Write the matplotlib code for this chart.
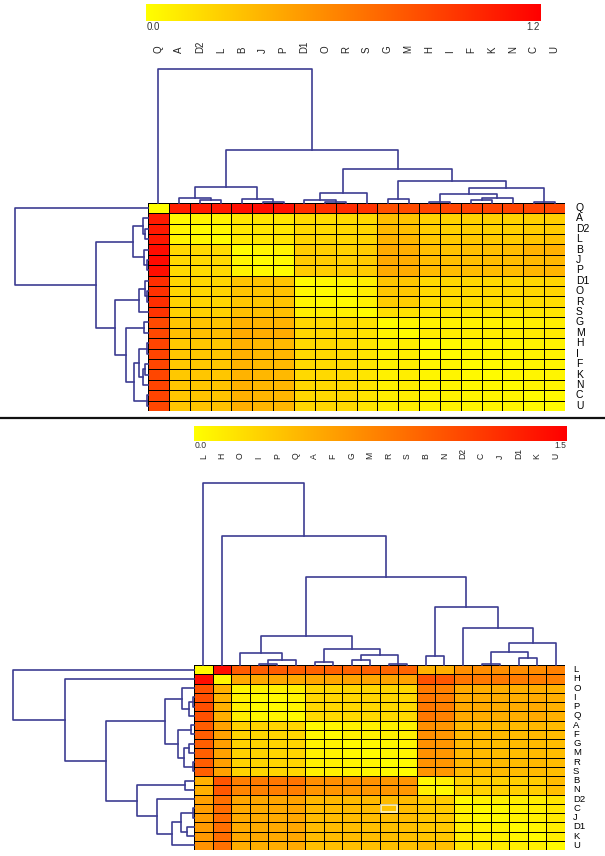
import matplotlib
matplotlib.use("Agg")
import matplotlib.pyplot as plt
import numpy as np
from matplotlib.colors import LinearSegmentedColormap
from matplotlib.lines import Line2D
from matplotlib.patches import Rectangle

plt.rcParams['font.family'] = ['Liberation Sans', 'DejaVu Sans']

W, H = 605, 856

# ---- top panel data ----
top_labels = ["Q", "A", "D2", "L", "B", "J", "P", "D1", "O", "R",
              "S", "G", "M", "H", "I", "F", "K", "N", "C", "U"]
top_vmax = 1.2
top_values = np.array([
    [0.00, 1.06, 1.07, 1.08, 1.13, 1.14, 1.12, 0.98, 0.97, 0.99, 0.96, 0.82, 0.84, 0.88, 0.87, 0.88, 0.87, 0.88, 0.87, 0.86],
    [1.07, 0.03, 0.05, 0.06, 0.12, 0.13, 0.12, 0.17, 0.16, 0.17, 0.18, 0.30, 0.28, 0.22, 0.21, 0.22, 0.22, 0.21, 0.22, 0.23],
    [1.08, 0.05, 0.02, 0.04, 0.11, 0.12, 0.11, 0.18, 0.17, 0.18, 0.19, 0.33, 0.30, 0.23, 0.22, 0.23, 0.22, 0.22, 0.23, 0.24],
    [1.09, 0.06, 0.04, 0.02, 0.10, 0.11, 0.12, 0.20, 0.19, 0.19, 0.20, 0.36, 0.34, 0.26, 0.25, 0.26, 0.25, 0.24, 0.27, 0.29],
    [1.14, 0.19, 0.18, 0.17, 0.02, 0.05, 0.06, 0.24, 0.23, 0.22, 0.24, 0.40, 0.38, 0.30, 0.29, 0.30, 0.30, 0.31, 0.36, 0.37],
    [1.15, 0.19, 0.18, 0.18, 0.05, 0.02, 0.03, 0.25, 0.24, 0.23, 0.25, 0.41, 0.39, 0.31, 0.30, 0.30, 0.31, 0.31, 0.33, 0.34],
    [1.13, 0.18, 0.17, 0.18, 0.06, 0.03, 0.02, 0.24, 0.23, 0.23, 0.24, 0.40, 0.39, 0.32, 0.31, 0.31, 0.31, 0.31, 0.34, 0.35],
    [0.98, 0.20, 0.19, 0.20, 0.28, 0.29, 0.28, 0.02, 0.04, 0.05, 0.08, 0.28, 0.27, 0.18, 0.19, 0.19, 0.18, 0.18, 0.19, 0.20],
    [0.97, 0.20, 0.19, 0.21, 0.28, 0.28, 0.29, 0.04, 0.02, 0.03, 0.08, 0.27, 0.26, 0.18, 0.18, 0.18, 0.18, 0.18, 0.19, 0.20],
    [0.98, 0.21, 0.20, 0.20, 0.27, 0.27, 0.28, 0.05, 0.03, 0.02, 0.07, 0.24, 0.23, 0.15, 0.15, 0.15, 0.15, 0.15, 0.16, 0.16],
    [0.96, 0.22, 0.22, 0.22, 0.30, 0.30, 0.30, 0.08, 0.08, 0.07, 0.02, 0.15, 0.14, 0.11, 0.11, 0.11, 0.11, 0.11, 0.12, 0.12],
    [0.85, 0.27, 0.28, 0.28, 0.37, 0.36, 0.36, 0.19, 0.18, 0.18, 0.14, 0.02, 0.06, 0.07, 0.07, 0.07, 0.07, 0.07, 0.08, 0.08],
    [0.86, 0.30, 0.30, 0.31, 0.40, 0.39, 0.39, 0.19, 0.19, 0.18, 0.14, 0.06, 0.02, 0.09, 0.09, 0.09, 0.09, 0.09, 0.10, 0.10],
    [0.88, 0.26, 0.27, 0.27, 0.37, 0.34, 0.33, 0.18, 0.18, 0.17, 0.13, 0.07, 0.08, 0.02, 0.03, 0.05, 0.05, 0.05, 0.06, 0.06],
    [0.88, 0.27, 0.27, 0.28, 0.37, 0.34, 0.34, 0.18, 0.18, 0.17, 0.13, 0.07, 0.08, 0.03, 0.02, 0.05, 0.05, 0.05, 0.06, 0.06],
    [0.87, 0.26, 0.26, 0.27, 0.36, 0.33, 0.33, 0.18, 0.17, 0.17, 0.12, 0.07, 0.08, 0.05, 0.05, 0.02, 0.03, 0.04, 0.05, 0.05],
    [0.87, 0.26, 0.27, 0.27, 0.36, 0.34, 0.33, 0.18, 0.18, 0.17, 0.12, 0.07, 0.08, 0.05, 0.05, 0.03, 0.02, 0.04, 0.05, 0.05],
    [0.88, 0.27, 0.27, 0.28, 0.37, 0.34, 0.34, 0.19, 0.18, 0.17, 0.13, 0.07, 0.08, 0.05, 0.05, 0.04, 0.04, 0.02, 0.05, 0.05],
    [0.88, 0.27, 0.28, 0.28, 0.37, 0.35, 0.34, 0.19, 0.18, 0.18, 0.13, 0.08, 0.08, 0.06, 0.06, 0.05, 0.05, 0.05, 0.02, 0.03],
    [0.87, 0.27, 0.28, 0.29, 0.38, 0.35, 0.34, 0.19, 0.19, 0.18, 0.13, 0.08, 0.08, 0.06, 0.06, 0.05, 0.05, 0.05, 0.03, 0.02],
])
# merges: (node a, node b, height); leaves 0..19 in display order, merge k gets id 20+k
top_merges = [
    (2, 3, 2.7), (1, 20, 5.0), (5, 6, 0.7), (4, 22, 3.7), (21, 23, 15.3),
    (8, 9, 0.7), (7, 25, 2.7), (26, 10, 9.3), (11, 12, 4.0), (13, 14, 0.7),
    (15, 16, 2.7), (30, 17, 5.0), (29, 31, 8.7), (18, 19, 0.7), (32, 33, 14.3),
    (28, 34, 21.7), (27, 35, 33.3), (24, 36, 52.0), (0, 37, 133.0),
]

# ---- bottom panel data ----
bot_labels = ["L", "H", "O", "I", "P", "Q", "A", "F", "G", "M",
              "R", "S", "B", "N", "D2", "C", "J", "D1", "K", "U"]
bot_vmax = 1.5
bot_values = np.array([
    [0.04, 1.42, 0.96, 0.95, 0.96, 0.94, 0.92, 0.92, 0.91, 0.92, 0.90, 0.91, 0.46, 0.48, 0.66, 0.67, 0.66, 0.67, 0.68, 0.74],
    [1.42, 0.06, 0.50, 0.50, 0.51, 0.50, 0.52, 0.52, 0.53, 0.52, 0.53, 0.54, 1.02, 0.98, 0.80, 0.78, 0.78, 0.77, 0.76, 0.74],
    [1.02, 0.46, 0.06, 0.08, 0.09, 0.10, 0.24, 0.23, 0.24, 0.24, 0.25, 0.24, 0.78, 0.74, 0.50, 0.48, 0.48, 0.48, 0.49, 0.46],
    [1.04, 0.45, 0.08, 0.03, 0.04, 0.06, 0.24, 0.24, 0.24, 0.25, 0.25, 0.24, 0.80, 0.75, 0.50, 0.49, 0.49, 0.48, 0.50, 0.47],
    [1.04, 0.46, 0.09, 0.04, 0.03, 0.06, 0.23, 0.23, 0.23, 0.24, 0.24, 0.24, 0.80, 0.75, 0.51, 0.50, 0.49, 0.49, 0.50, 0.46],
    [1.03, 0.47, 0.10, 0.06, 0.06, 0.03, 0.22, 0.22, 0.22, 0.23, 0.23, 0.23, 0.80, 0.74, 0.50, 0.48, 0.48, 0.48, 0.50, 0.46],
    [0.96, 0.55, 0.27, 0.26, 0.25, 0.24, 0.03, 0.05, 0.08, 0.09, 0.09, 0.09, 0.66, 0.62, 0.42, 0.41, 0.41, 0.40, 0.42, 0.40],
    [0.95, 0.56, 0.26, 0.25, 0.25, 0.24, 0.05, 0.03, 0.08, 0.08, 0.09, 0.09, 0.66, 0.62, 0.42, 0.41, 0.40, 0.40, 0.41, 0.40],
    [0.94, 0.56, 0.27, 0.26, 0.26, 0.25, 0.08, 0.08, 0.03, 0.05, 0.07, 0.07, 0.65, 0.62, 0.42, 0.40, 0.40, 0.40, 0.41, 0.39],
    [0.94, 0.55, 0.27, 0.26, 0.25, 0.25, 0.09, 0.08, 0.05, 0.03, 0.06, 0.06, 0.65, 0.61, 0.42, 0.40, 0.40, 0.39, 0.41, 0.39],
    [0.95, 0.56, 0.26, 0.25, 0.25, 0.25, 0.09, 0.09, 0.07, 0.06, 0.02, 0.03, 0.64, 0.62, 0.43, 0.41, 0.41, 0.40, 0.42, 0.40],
    [0.94, 0.55, 0.26, 0.25, 0.25, 0.24, 0.09, 0.09, 0.07, 0.06, 0.03, 0.02, 0.63, 0.61, 0.42, 0.40, 0.40, 0.40, 0.41, 0.39],
    [0.46, 1.00, 0.76, 0.78, 0.80, 0.82, 0.66, 0.66, 0.65, 0.64, 0.62, 0.63, 0.05, 0.10, 0.26, 0.28, 0.28, 0.29, 0.30, 0.40],
    [0.47, 0.98, 0.72, 0.74, 0.76, 0.76, 0.62, 0.62, 0.62, 0.61, 0.62, 0.61, 0.10, 0.05, 0.25, 0.26, 0.27, 0.28, 0.29, 0.38],
    [0.56, 0.84, 0.52, 0.52, 0.53, 0.55, 0.42, 0.42, 0.41, 0.41, 0.40, 0.40, 0.30, 0.30, 0.03, 0.08, 0.09, 0.10, 0.11, 0.16],
    [0.58, 0.86, 0.50, 0.50, 0.51, 0.53, 0.41, 0.40, 0.40, 0.39, 0.36, 0.39, 0.32, 0.31, 0.08, 0.03, 0.04, 0.08, 0.09, 0.14],
    [0.58, 0.86, 0.50, 0.50, 0.50, 0.52, 0.40, 0.40, 0.40, 0.39, 0.39, 0.39, 0.33, 0.32, 0.09, 0.04, 0.03, 0.08, 0.09, 0.13],
    [0.59, 0.85, 0.50, 0.49, 0.50, 0.52, 0.40, 0.40, 0.39, 0.38, 0.38, 0.38, 0.33, 0.32, 0.10, 0.08, 0.08, 0.03, 0.06, 0.11],
    [0.60, 0.86, 0.51, 0.50, 0.50, 0.52, 0.40, 0.40, 0.40, 0.39, 0.39, 0.38, 0.34, 0.33, 0.11, 0.09, 0.09, 0.06, 0.03, 0.10],
    [0.64, 0.84, 0.48, 0.48, 0.48, 0.50, 0.38, 0.38, 0.38, 0.37, 0.37, 0.37, 0.40, 0.38, 0.15, 0.13, 0.12, 0.10, 0.09, 0.03],
])
bot_merges = [
    (3, 4, 1.0), (20, 5, 5.0), (2, 21, 12.3), (6, 7, 2.7), (8, 9, 5.0),
    (10, 11, 1.0), (24, 25, 9.7), (23, 26, 16.3), (22, 27, 29.0), (12, 13, 8.7),
    (15, 16, 1.0), (17, 18, 6.7), (30, 31, 13.3), (32, 19, 22.3), (14, 33, 36.7),
    (29, 34, 57.7), (28, 35, 88.3), (1, 36, 129.3), (0, 37, 181.7),
]
bot_marked_cell = ("C", "R")  # row, column with the light outline

cmap = LinearSegmentedColormap.from_list("yr", ["#FFFF00", "#FF0000"])
line_col = "#3d3d92"

fig = plt.figure(figsize=(W / 100, H / 100), dpi=100)


def px_axes(x0, y0, x1, y1):
    ax = fig.add_axes([x0 / W, 1 - y1 / H, (x1 - x0) / W, (y1 - y0) / H])
    ax.set_axis_off()
    return ax


def ftext(x, y, s, **kw):
    fig.text(x / W, 1 - y / H, s, **kw)


def dendro_segments(merges, n):
    pos = {i: i + 0.5 for i in range(n)}
    hgt = {i: 0.0 for i in range(n)}
    segs = []
    for k, (a, b, h) in enumerate(merges):
        xa, xb = pos[a], pos[b]
        segs.append(([xa, xa, xb, xb], [hgt[a], h, h, hgt[b]]))
        pos[n + k] = (xa + xb) / 2
        hgt[n + k] = h
    return segs


def draw_panel(labels, values, vmax, merges, cbar_box, cbar_txt_y, lab_y,
               col_fs, heat_box, root_top, root_left, row_lab_x, row_fs, cbar_fs):
    n = len(labels)
    hx0, hy0, hx1, hy1 = heat_box

    # colour bar
    cax = px_axes(*cbar_box)
    cax.imshow(np.linspace(0, 1, 256)[None, :], aspect="auto", cmap=cmap)
    ftext(cbar_box[0] + 1, cbar_txt_y, "0.0", ha="left", va="center",
          fontsize=cbar_fs, color="#333333")
    ftext(cbar_box[2] - 1, cbar_txt_y, f"{vmax:.1f}", ha="right", va="center",
          fontsize=cbar_fs, color="#333333")

    # heatmap
    ax = px_axes(hx0, hy0, hx1, hy1)
    ax.pcolormesh(values, cmap=cmap, vmin=0, vmax=vmax,
                  edgecolors="black", linewidth=0.7)
    ax.set_xlim(0, n)
    ax.set_ylim(n, 0)

    segs = dendro_segments(merges, n)
    root_h = merges[-1][2]

    # column dendrogram
    dax = px_axes(hx0, root_top, hx1, hy0)
    for xs, ys in segs:
        dax.plot(xs, ys, color=line_col, lw=1.2, clip_on=False)
    dax.set_xlim(0, n)
    dax.set_ylim(0, root_h)

    # row dendrogram
    rax = px_axes(root_left, hy0, hx0, hy1)
    for xs, ys in segs:
        rax.plot(ys, xs, color=line_col, lw=1.2, clip_on=False)
    rax.set_xlim(root_h, 0)
    rax.set_ylim(n, 0)

    cw = (hx1 - hx0) / n
    rh = (hy1 - hy0) / n
    for i, lab in enumerate(labels):
        ftext(hx0 + cw * (i + 0.5), lab_y, lab, rotation=90, ha="center",
              va="bottom", fontsize=col_fs, color="#222222")
        ftext(row_lab_x, hy0 + rh * (i + 0.5), lab, ha="left", va="center",
              fontsize=row_fs, color="black")
    return ax


draw_panel(top_labels, top_values, top_vmax, top_merges,
           cbar_box=(146, 4, 541, 21), cbar_txt_y=27, lab_y=53, col_fs=7,
           heat_box=(148, 202.7, 565, 411), root_top=69, root_left=14.7,
           row_lab_x=576, row_fs=7.5, cbar_fs=7)

bax = draw_panel(bot_labels, bot_values, bot_vmax, bot_merges,
                 cbar_box=(194, 426, 567, 441), cbar_txt_y=446, lab_y=459, col_fs=6.2,
                 heat_box=(194, 665, 565, 850), root_top=483.3, root_left=13,
                 row_lab_x=573, row_fs=6.8, cbar_fs=6.2)

r = bot_labels.index(bot_marked_cell[0])
c = bot_labels.index(bot_marked_cell[1])
bax.add_patch(Rectangle((c + 0.08, r + 0.12), 0.84, 0.76, fill=False,
                        edgecolor="#fff4c0", lw=1.2))

# separator between the two panels
fig.add_artist(Line2D([0, 1], [1 - 418 / H, 1 - 418 / H], color="#111111", lw=1.6))

fig.savefig("out.png", dpi=100)
